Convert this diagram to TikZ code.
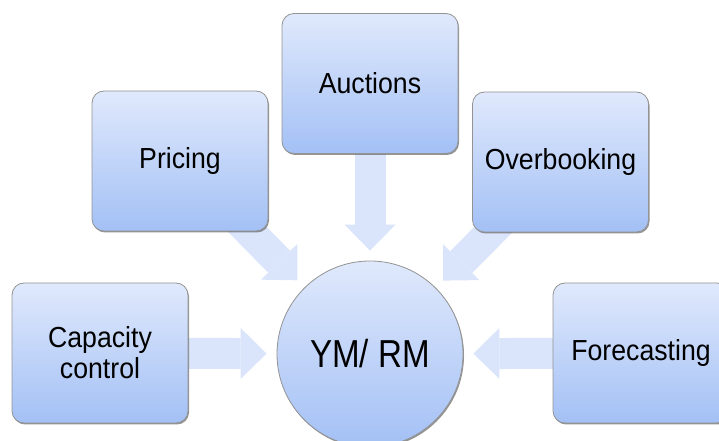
\documentclass[tikz,border=0pt]{standalone}
\usepackage{fontspec}
\usepackage{tikz}
\usetikzlibrary{shapes}
\usetikzlibrary{arrows.meta}
\usetikzlibrary{shadows}
\usetikzlibrary{backgrounds}
\newfontfamily\boxfont[FakeStretch=0.92]{Liberation Sans}
\newfontfamily\hubfont[FakeStretch=0.85]{Liberation Sans}
\definecolor{boxtop}{RGB}{224,233,252}
\definecolor{boxbot}{RGB}{163,192,245}
\definecolor{flowblue}{RGB}{218,228,251}
\begin{document}
\begin{tikzpicture}[x=1pt,y=1pt]
\tikzstyle{topic}=[rectangle,rounded corners=12pt,minimum width=176pt,minimum height=140pt,
top color=boxtop,bottom color=boxbot,draw=gray!85,line width=0.8pt,
drop shadow={shadow xshift=1pt,shadow yshift=-1.5pt,fill=black!60,opacity=0.7},
font=\boxfont\fontsize{29}{31}\selectfont,align=center,inner sep=0pt]
\tikzstyle{hub}=[circle,minimum size=186pt,inner sep=0pt,
top color=boxtop,bottom color=boxbot,draw=gray!85,line width=0.8pt,
drop shadow={shadow xshift=1pt,shadow yshift=-1.5pt,fill=black!60,opacity=0.7},
font=\hubfont\fontsize{39}{42}\selectfont]
\tikzstyle{flow}=[line width=31pt,draw=flowblue,
-{Triangle[length=26pt,width=51pt,line width=0pt]},shorten >=10pt]
\clip (0,0) rectangle (719,441);
\node[hub] (ym) at (370,87) {YM/ RM};
\node[topic] (cap) at (100,88) {Capacity\\control};
\node[topic] (pri) at (180,280) {Pricing};
\node[topic] (auc) at (370,357.5) {Auctions};
\node[topic] (ovb) at (560.5,279) {Overbooking};
\node[topic] (fc) at (641,88) {Forecasting};
% arrows into the hub
\begin{scope}[on background layer]
\draw[flow] (cap.center) -- (ym);
\draw[flow] (pri.center) -- (ym);
\draw[flow] (auc.center) -- (ym);
\draw[flow] (ovb.center) -- (ym);
\draw[flow] (fc.center) -- (ym);
\end{scope}
\end{tikzpicture}
\end{document}
